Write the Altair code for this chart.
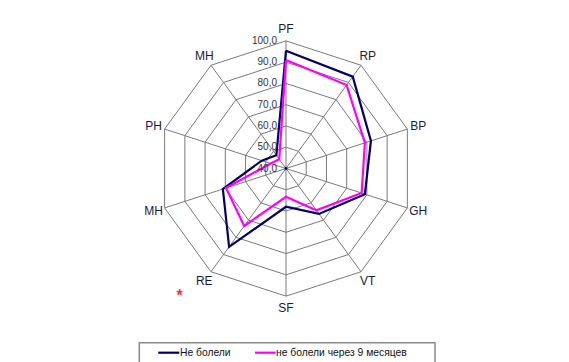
import altair as alt
import numpy as np
import pandas as pd

# ---- data ----
axes_labels = ["PF", "RP", "BP", "GH", "VT", "SF", "RE", "MH", "PH", "MH"]
series1_name = "Не болели"
series1 = [95.4, 93.4, 82.0, 79.0, 66.4, 58.0, 85.5, 71.2, 52.0, 47.7]
series2_name = "не болели через 9 месяцев"
series2 = [91.0, 88.5, 79.0, 77.4, 64.3, 53.3, 73.4, 69.6, 47.6, 45.4]
tick_values = [40, 50, 60, 70, 80, 90, 100]
tick_labels = ["40,0", "50,0", "60,0", "70,0", "80,0", "90,0", "100,0"]
r_min, r_max = 40, 100

n = len(axes_labels)
ang = np.arange(n) * 2 * np.pi / n


def xy(v, i):
    r = v - r_min
    return r * np.sin(ang[i % n]), r * np.cos(ang[i % n])


# rings
ring_rows = []
for t in tick_values[1:]:
    for k in range(n + 1):
        x, y = xy(t, k)
        ring_rows.append({"ring": t, "k": k, "x": x, "y": y})
rings = pd.DataFrame(ring_rows)

# spokes
spoke_rows = []
for i in range(n):
    x2, y2 = xy(r_max, i)
    spoke_rows.append({"x": 0.0, "y": 0.0, "x2": x2, "y2": y2})
spokes = pd.DataFrame(spoke_rows)

# series polygons
ser_rows = []
for name, vals in [(series1_name, series1), (series2_name, series2)]:
    for k in range(n + 1):
        x, y = xy(vals[k % n], k)
        ser_rows.append({"series": name, "k": k, "x": x, "y": y})
ser = pd.DataFrame(ser_rows)

# axis labels
lab_rows = []
for i, lab in enumerate(axes_labels):
    x, y = xy(r_max + 5.4, i)
    lab_rows.append({"label": lab, "x": x, "y": y})
labs = pd.DataFrame(lab_rows)

# tick labels
ticks = pd.DataFrame({"x": [0.0] * len(tick_values),
                      "y": [t - r_min for t in tick_values],
                      "label": tick_labels})

W, H = 553, 354
xs = alt.Scale(domain=[-130.7, 129.3], nice=False, zero=False)
ys = alt.Scale(domain=[-90.97, 75.46], nice=False, zero=False)
X = lambda f="x": alt.X(f"{f}:Q", scale=xs, axis=None)
Y = lambda f="y": alt.Y(f"{f}:Q", scale=ys, axis=None)

grid_color = "#7a7a7a"
font = "Liberation Sans"

ring_layer = alt.Chart(rings).mark_line(color=grid_color, strokeWidth=1).encode(
    x=X(), y=Y(), detail="ring:N", order="k:Q")
spoke_layer = alt.Chart(spokes).mark_rule(color=grid_color, strokeWidth=1).encode(
    x=X(), y=Y(), x2="x2:Q", y2="y2:Q")
ser_layer = alt.Chart(ser).mark_line(strokeWidth=2.2).encode(
    x=X(), y=Y(), order="k:Q",
    color=alt.Color("series:N",
                    scale=alt.Scale(domain=[series1_name, series2_name],
                                    range=["#000066", "#ff00ff"]),
                    legend=None))
lab_layer = alt.Chart(labs).mark_text(font=font, fontSize=12, color="#1a1a40",
                                      align="center", baseline="middle").encode(
    x=X(), y=Y(), text="label:N")
tick_layer = alt.Chart(ticks).mark_text(font=font, fontSize=10, color="#333333",
                                        align="right", baseline="middle", dx=-9).encode(
    x=X(), y=Y(), text="label:N")
center_dot = alt.Chart(pd.DataFrame({"x": [0.0], "y": [0.0]})).mark_point(
    filled=True, size=8, color="#000066", opacity=1).encode(x=X(), y=Y())

one = pd.DataFrame({"a": [0]})
legend_box = alt.Chart(one).mark_rect(fill="white", stroke="#8a8a8a", strokeWidth=1.5,
                                      clip=False).encode(
    x=alt.value(131.3), x2=alt.value(427), y=alt.value(334.7), y2=alt.value(362))
leg1_line = alt.Chart(one).mark_rule(color="#000066", strokeWidth=2.2).encode(
    x=alt.value(150.3), x2=alt.value(171.3), y=alt.value(344.7))
leg2_line = alt.Chart(one).mark_rule(color="#ff00ff", strokeWidth=2.2).encode(
    x=alt.value(247), x2=alt.value(267.7), y=alt.value(344.7))
leg_text = alt.Chart(pd.DataFrame({"t": [series1_name, series2_name],
                                   "px": [172.0, 268.0]})).mark_text(
    font=font, fontSize=10.3, color="#111111", align="left", baseline="middle").encode(
    x=alt.X("px:Q", scale=alt.Scale(domain=[0, W], range=[0, W], nice=False), axis=None),
    y=alt.value(345.3), text="t:N")
star = alt.Chart(one).mark_text(text="*", font=font, fontSize=16, fontWeight="bold",
                                color="#ff3030").encode(
    x=alt.value(171.5), y=alt.value(288))

chart = alt.layer(
    ring_layer, spoke_layer, ser_layer, center_dot, lab_layer, tick_layer,
    legend_box, leg1_line, leg2_line, leg_text, star
).resolve_scale(x="independent").properties(
    width=W, height=H, padding=0, autosize=alt.AutoSizeParams(type="none")
).configure_view(stroke=None)

chart.save("out.html", embed_options={"renderer": "svg", "actions": False})
